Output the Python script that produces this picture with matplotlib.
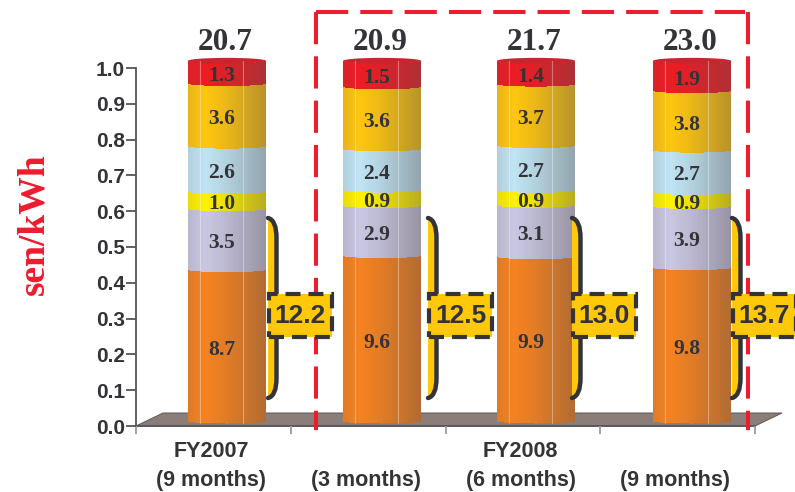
import numpy as np
import matplotlib
matplotlib.use("Agg")
import matplotlib.pyplot as plt
from matplotlib.patches import Ellipse, PathPatch, Polygon, Rectangle
from matplotlib.path import Path

# Unit cost components, bottom of the stack first (sen/kWh)
periods = ["FY2007\n(9 months)", "\n(3 months)", "FY2008\n(6 months)", "\n(9 months)"]
orange = [8.7, 9.6, 9.9, 9.8]
lavender = [3.5, 2.9, 3.1, 3.9]
yellow = [1.0, 0.9, 0.9, 0.9]
light_blue = [2.6, 2.4, 2.7, 2.7]
amber = [3.6, 3.6, 3.7, 3.8]
red = [1.3, 1.5, 1.4, 1.9]
totals = ["20.7", "20.9", "21.7", "23.0"]
bracket_totals = ["12.2", "12.5", "13.0", "13.7"]

series = [orange, lavender, yellow, light_blue, amber, red]
colors = ["#f58220", "#c9c7e2", "#fff200", "#c0e4f3", "#ffc60f", "#ed1c24"]

DARK = "#333338"
BOX_YELLOW = "#ffc90a"
LINE_RED = "#ed1c2e"

W, H = 795, 492
AX_L, AX_R, AX_T, AX_B = 136, 755, 68, 426

fig = plt.figure(figsize=(W / 100, H / 100), dpi=100, facecolor="white")
ax = fig.add_axes([AX_L / W, 1 - AX_B / H, (AX_R - AX_L) / W, (AX_B - AX_T) / H])
ax.set_xlim(0, 4)
ax.set_ylim(0, 1)
UX = 4 / (AX_R - AX_L)   # category units per pixel
UY = 1 / (AX_B - AX_T)   # y units per pixel


def dx(px):
    return (px - AX_L) * UX


def dy(py):
    return (AX_B - py) * UY


# Floor plane under the columns
ax.add_patch(Polygon([(dx(136), 0), (dx(163), dy(413)), (dx(782), dy(413)), (dx(755), 0)],
                     closed=True, facecolor="#8b7e79", edgecolor="#5c5654", lw=0.7,
                     zorder=1, clip_on=False))

centers = [dx(227), dx(382), dx(536), dx(692)]
half_w = 39 * UX
lift = 5 * UY        # columns stand slightly behind the front edge
sag = 2.5 * UY       # depth of the curved segment edges
col_height = 1.006   # drawn length of a full column

# Horizontal shading of the cylinder
u = np.linspace(0, 1, 79)
um = 0.5 * (u[:-1] + u[1:])
shade = np.interp(um, [0, 0.22, 0.45, 1.0], [0.14, 0.0, 0.1, 0.42])
curve = np.sqrt(np.clip(1 - (2 * u - 1) ** 2, 0, 1))
SHADOW = np.array([0.33, 0.30, 0.30])


def shaded(color):
    rgb = np.array(matplotlib.colors.to_rgb(color))
    return (rgb[None, :] * (1 - shade[:, None]) + SHADOW * shade[:, None])[None, :, :]


for i, c in enumerate(centers):
    total = sum(s[i] for s in series)
    xs = c - half_w + u * 2 * half_w
    base = lift
    for s, col in zip(series, colors):
        share = s[i] / total * col_height
        lo = base - sag * curve
        hi = base + share - sag * curve
        X = np.vstack([xs, xs])
        Y = np.vstack([lo, hi])
        ax.pcolormesh(X, Y, shaded(col), shading="flat", zorder=2, clip_on=False)
        ax.text(c - 5 * UX, base + share / 2 - sag * 0.5 - 3 * UY, f"{s[i]:.1f}",
                ha="center", va="center", family="Liberation Serif", weight="bold",
                fontsize=15.5, color=DARK, zorder=4, clip_on=False)
        base += share
    # Cap of the column and facet highlights
    ax.add_patch(Ellipse((c, base), 2 * half_w, 6 * UY, facecolor="#c9252f",
                         edgecolor="none", zorder=3, clip_on=False))
    for f in (0.16, 0.71):
        ax.plot([xs[0] + f * 2 * half_w] * 2, [lift - sag * 0.6, base], color="white",
                lw=0.8, alpha=0.35, zorder=3, clip_on=False)
    ax.text(c - 1.5 * UX, dy(43), totals[i], ha="center", va="center",
            family="Liberation Serif", weight="bold", fontsize=22.5, color=DARK,
            zorder=4, clip_on=False)

# Three-sided dashed frame around the FY2008 columns
FRAME_DASH = (0, (8, 3))
frame_l, frame_r, frame_t, frame_b = dx(316), dx(748), dy(12), dy(430)
for xa, ya, xb, yb in [(frame_l, frame_t, frame_l, frame_b),
                       (frame_l, frame_t, frame_r - 3 * UX, frame_t),
                       (frame_r, frame_t, frame_r, frame_b)]:
    ax.plot([xa, xb], [ya, yb], color=LINE_RED, lw=2.9, linestyle=FRAME_DASH,
            dash_capstyle="butt", zorder=5, clip_on=False)

# Brackets and sub-total boxes beside each column
bracket_x = [268, 428, 572, 732]
Y_TOP, Y_BOT = 218, 398
for x0, label in zip(bracket_x, bracket_totals):
    xr = x0 + 8.5
    edge = [(dx(x0), dy(Y_TOP)), (dx(xr), dy(Y_TOP + 2)), (dx(xr), dy(Y_TOP + 20)),
            (dx(xr), dy(Y_BOT - 20)), (dx(xr), dy(Y_BOT - 2)), (dx(x0), dy(Y_BOT))]
    codes = [Path.MOVETO, Path.CURVE3, Path.CURVE3, Path.LINETO, Path.CURVE3, Path.CURVE3]
    ax.add_patch(PathPatch(Path(edge + edge[:1], codes + [Path.CLOSEPOLY]), facecolor=BOX_YELLOW,
                           edgecolor="none", zorder=6, clip_on=False))
    ax.add_patch(PathPatch(Path(edge, codes), facecolor="none", edgecolor=DARK, lw=3.2,
                           capstyle="round", zorder=6, clip_on=False))
    ax.add_patch(Rectangle((dx(x0 + 0.5), dy(337)), 63.5 * UX, 43.5 * UY, facecolor=BOX_YELLOW,
                           edgecolor="none", zorder=7, clip_on=False))
    ax.add_patch(Rectangle((dx(x0 + 0.5), dy(337)), 63.5 * UX, 43.5 * UY, facecolor="none",
                           edgecolor=DARK, lw=3, linestyle=(0, (3.6, 1.9)),
                           zorder=7, clip_on=False))
    ax.text(dx(x0 + 32.5), dy(316), label, ha="center", va="center", family="Liberation Sans",
            weight="bold", fontsize=19, color=DARK, zorder=8, clip_on=False)

# Axes
for side in ("top", "right"):
    ax.spines[side].set_visible(False)
for side in ("left", "bottom"):
    ax.spines[side].set_color("#55555a")
    ax.spines[side].set_linewidth(1.3)
    ax.spines[side].set_zorder(1.5)

ax.set_yticks(np.arange(0, 1.01, 0.1))
ax.set_yticklabels([f"{v:.1f}" for v in np.arange(0, 1.01, 0.1)], family="Liberation Sans",
                   weight="bold", fontsize=15, color=DARK)
ax.tick_params(axis="y", length=7, width=1.3, color="#55555a", pad=1)

ax.set_xticks([0, 1, 2, 3, 4])
ax.set_xticklabels([])
ax.tick_params(axis="x", which="major", length=6, width=1.3, color="#9a9a9a")
ax.set_xticks([0.485, 1.485, 2.485, 3.485], minor=True)
ax.set_xticklabels(periods, minor=True, family="Liberation Sans", weight="bold", fontsize=15.5,
                   color=DARK, linespacing=1.53)
ax.tick_params(axis="x", which="minor", length=0, pad=10.5)

fig.text(34 / W, 1 - 224 / H, "sen/kWh", rotation=90, ha="center", va="center",
         family="Liberation Serif", weight="bold", fontsize=27, color=LINE_RED)

fig.savefig("out.png", dpi=100)
